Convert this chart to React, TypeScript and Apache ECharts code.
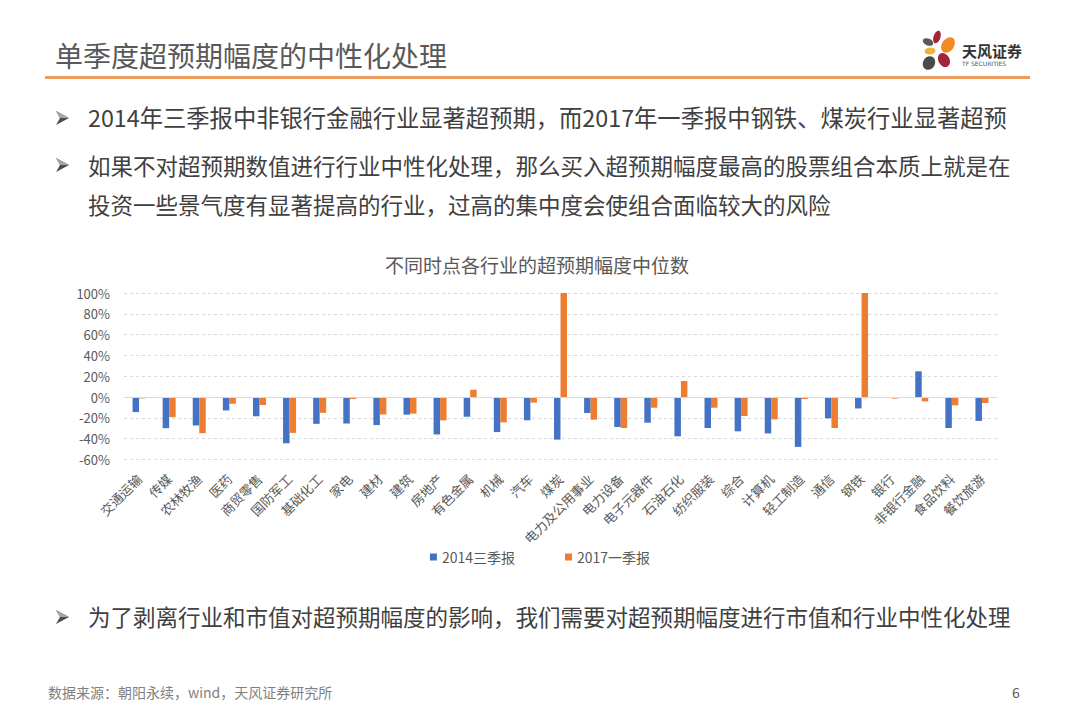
import React, { useEffect, useRef } from "react";
import * as echarts from "echarts";

const categories = [
  "交通运输", "传媒", "农林牧渔", "医药", "商贸零售", "国防军工", "基础化工", "家电", "建材", "建筑",
  "房地产", "有色金属", "机械", "汽车", "煤炭", "电力及公用事业", "电力设备", "电子元器件", "石油石化", "纺织服装",
  "综合", "计算机", "轻工制造", "通信", "钢铁", "银行", "非银行金融", "食品饮料", "餐饮旅游",
];
const seriesNames = ["2014三季报", "2017一季报"];
const values2014 = [
  -14.5, -30, -27.4, -12.9, -18.4, -44.5, -25.8, -25.5, -27, -17,
  -36, -19, -33.7, -22.4, -41, -15.4, -28.8, -24.7, -37.8, -29.8,
  -33, -35, -48, -20.5, -11, -0.5, 24.7, -29.8, -23,
];
const values2017 = [
  -1.3, -19.4, -34.8, -6.5, -7.7, -34.5, -15.2, -2, -16.8, -16,
  -22.4, 7, -24.4, -5.4, 100, -21.8, -29.8, -10.3, 15.4, -10.3,
  -18.3, -21.5, -2, -29.8, 100, -1.5, -4.2, -8, -5.8,
];
const yMin = -60;
const yMax = 100;
const yStep = 20;

const slideTitle = "单季度超预期幅度的中性化处理";
const bullets = [
  "2014年三季报中非银行金融行业显著超预期，而2017年一季报中钢铁、煤炭行业显著超预",
  "如果不对超预期数值进行行业中性化处理，那么买入超预期幅度最高的股票组合本质上就是在",
  "投资一些景气度有显著提高的行业，过高的集中度会使组合面临较大的风险",
  "为了剥离行业和市值对超预期幅度的影响，我们需要对超预期幅度进行市值和行业中性化处理",
];
const chartTitle = "不同时点各行业的超预期幅度中位数";
const footer = "数据来源：朝阳永续，wind，天风证券研究所";
const pageNo = "6";

const FONT = '"Noto Sans CJK SC", "Noto Sans", sans-serif';

function txt(text: string, x: number, y: number, size: number, fill: string, opts: any = {}) {
  return {
    type: "text",
    x,
    y,
    silent: true,
    style: {
      text,
      fill,
      font: `${opts.weight || "normal"} ${size}px ${opts.family || FONT}`,
      align: opts.align || "left",
      textAlign: opts.align || "left",
      verticalAlign: "middle",
      textVerticalAlign: "middle",
    },
  };
}

function petal(x: number, y: number, rx: number, ry: number, rot: number, fill: string) {
  return {
    type: "ellipse",
    x,
    y,
    rotation: rot,
    silent: true,
    shape: { cx: 0, cy: 0, rx, ry },
    style: { fill },
  };
}

function arrow(x: number, y: number) {
  return {
    type: "group",
    x,
    y,
    silent: true,
    children: [
      {
        type: "polygon",
        shape: { points: [[0, -7], [13, 0], [0, 7], [4, 0]] },
        style: { fill: "#4D4D4D" },
      },
      {
        type: "polygon",
        shape: { points: [[0, -7], [13, 0], [4, 0]] },
        style: { fill: "#A6A6A6" },
      },
    ],
  };
}

export default function App() {
  const ref = useRef<HTMLDivElement>(null);

  useEffect(() => {
    document.body.style.margin = "0";
    const chart = echarts.init(ref.current!, null, { renderer: "svg" });
    const textColor = "#404040";
    const option: any = {
      animation: false,
      backgroundColor: "#ffffff",
      textStyle: { fontFamily: FONT },
      grid: { left: 124, right: 83, top: 293, bottom: 259.6 },
      legend: {
        data: seriesNames,
        left: "center",
        top: 545,
        icon: "rect",
        itemWidth: 7,
        itemHeight: 7,
        itemGap: 50,
        textStyle: { fontSize: 14, color: "#595959", fontFamily: FONT },
      },
      xAxis: {
        type: "category",
        data: categories,
        axisLine: { show: false, onZero: false },
        axisTick: { show: false },
        axisLabel: {
          interval: 0,
          rotate: 45,
          fontSize: 13,
          color: "#595959",
          margin: 17,
          fontFamily: FONT,
        },
      },
      yAxis: {
        type: "value",
        min: yMin,
        max: yMax,
        interval: yStep,
        axisLine: { show: false },
        axisTick: { show: false },
        axisLabel: {
          formatter: "{value}%",
          fontSize: 13,
          color: "#595959",
          margin: 14,
          fontFamily: FONT,
        },
        splitLine: { lineStyle: { color: "#D9D9D9", type: [3, 3], width: 1 } },
      },
      series: [
        {
          name: seriesNames[0],
          type: "bar",
          data: values2014,
          barWidth: 6.5,
          barGap: "0%",
          itemStyle: { color: "#4472C4" },
          markLine: {
            silent: true,
            symbol: ["none", "none"],
            label: { show: false },
            lineStyle: { color: "#D9D9D9", type: "solid", width: 1 },
            data: [{ yAxis: 0 }],
          },
        },
        {
          name: seriesNames[1],
          type: "bar",
          data: values2017,
          barWidth: 6.5,
          barGap: "0%",
          itemStyle: { color: "#ED7D31" },
        },
      ],
      graphic: [
        txt(slideTitle, 55, 55, 28, "#595959"),
        { type: "rect", silent: true, shape: { x: 45, y: 76, width: 985, height: 3 }, style: { fill: "#EE9B5E" } },
        petal(937, 37, 3.5, 6.5, -0.3, "#A3243B"),
        petal(928, 42, 5.5, 3.5, -0.4, "#5A5A5A"),
        petal(948, 45, 6, 8.5, -0.6, "#F08A24"),
        petal(930, 51, 5.5, 3.5, 0.1, "#F2B33D"),
        petal(929, 63, 6, 7, -0.5, "#4A4A4A"),
        petal(944, 60, 5.5, 7.5, 0.5, "#A3243B"),
        txt("天风证券", 962, 50, 15, "#333333", { weight: "bold" }),
        txt("TF SECURITIES", 962, 63, 6, "#555555", { family: '"DejaVu Sans", sans-serif' }),
        arrow(56, 118),
        txt(bullets[0], 88, 117, 23.3, textColor),
        arrow(56, 165),
        txt(bullets[1], 88, 165, 22.5, textColor),
        txt(bullets[2], 88, 204, 22.5, textColor),
        arrow(56, 617),
        txt(bullets[3], 88, 616, 22.5, textColor),
        txt(chartTitle, 537, 264, 19, "#595959", { align: "center" }),
        txt(footer, 48, 692, 14, "#7F7F7F"),
        txt(pageNo, 1016, 692, 14, "#595959", { align: "center" }),
      ],
    };
    chart.setOption(option);
    return () => chart.dispose();
  }, []);

  return (
    <div
      ref={ref}
      style={{ position: "absolute", left: 0, top: 0, width: 1080, height: 719, background: "#fff" }}
    />
  );
}
